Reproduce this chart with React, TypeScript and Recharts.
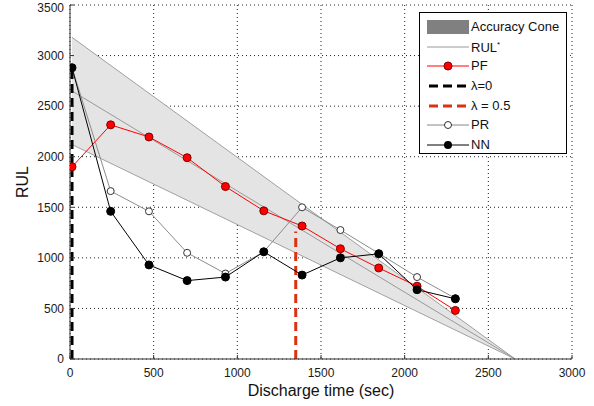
import {
  ComposedChart,
  Area,
  Line,
  XAxis,
  YAxis,
  CartesianGrid,
  Legend,
} from 'recharts';

// sampling instants (sec) shared by the three estimators
const sampleTimes = [12, 243, 472, 700, 929, 1158, 1387, 1616, 1845, 2074, 2303];
const pfValues = [1900, 2315, 2195, 1990, 1705, 1465, 1315, 1090, 900, 720, 480];
const prValues = [2880, 1660, 1460, 1050, 845, 1060, 1500, 1275, 1045, 810, 600];
const nnValues = [2880, 1460, 930, 775, 810, 1060, 830, 1000, 1040, 685, 595];

// true RUL and the +/-20% accuracy cone
const coneTimes = [12, 2660];
const rulTrue = [2650, 0];
const coneLower = [2120, 0];
const coneUpper = [3180, 0];

// lambda markers (vertical dashed lines)
const lambda0Time = 12;
const lambda0Top = 2880;
const lambdaHalfTime = 1349;
const lambdaHalfTop = 1260;

const xTicks = [0, 500, 1000, 1500, 2000, 2500, 3000];
const yTicks = [0, 500, 1000, 1500, 2000, 2500, 3000, 3500];

const FONT = 'Arial, "Liberation Sans", sans-serif';

const seriesData = (values: number[]) =>
  sampleTimes.map((t, i) => ({ t, v: values[i] }));

const coneData = coneTimes.map((t, i) => ({
  t,
  band: [coneLower[i], coneUpper[i]],
  rul: rulTrue[i],
}));

const lambda0Data = [
  { t: lambda0Time, v: 0 },
  { t: lambda0Time, v: lambda0Top },
];
const lambdaHalfData = [
  { t: lambdaHalfTime, v: 0 },
  { t: lambdaHalfTime, v: lambdaHalfTop },
];

const tickStyle = { fontSize: 12, fill: '#1a1a1a', fontFamily: FONT };

const YLabel = ({ viewBox }: any) => {
  const cy = viewBox ? viewBox.y + viewBox.height / 2 : 182;
  return (
    <text
      x={22}
      y={cy}
      transform={`rotate(-90 22 ${cy})`}
      textAnchor='middle'
      dominantBaseline='central'
      fontSize={16}
      fontFamily={FONT}
      fill='#111'
    >
      RUL
    </text>
  );
};

const XLabel = ({ viewBox }: any) => {
  const cx = viewBox ? viewBox.x + viewBox.width / 2 : 321;
  return (
    <text
      x={cx}
      y={396}
      textAnchor='middle'
      fontSize={16}
      fontFamily={FONT}
      fill='#111'
    >
      Discharge time (sec)
    </text>
  );
};

const Swatch = ({ kind }: { kind: string }) => {
  const w = 42;
  const h = 18;
  const c = h / 2;
  switch (kind) {
    case 'cone':
      return (
        <svg width={w} height={h}>
          <rect x={0} y={2} width={w} height={14} fill='#808080' />
        </svg>
      );
    case 'rul':
      return (
        <svg width={w} height={h}>
          <line x1={0} x2={w} y1={c} y2={c} stroke='#999' strokeWidth={1} />
        </svg>
      );
    case 'pf':
      return (
        <svg width={w} height={h}>
          <line x1={0} x2={w} y1={c} y2={c} stroke='#ff0000' strokeWidth={1} />
          <circle cx={w / 2} cy={c} r={4} fill='#ff0000' stroke='#800000' />
        </svg>
      );
    case 'l0':
      return (
        <svg width={w} height={h}>
          <line x1={2} x2={w} y1={c} y2={c} stroke='#000' strokeWidth={3} strokeDasharray='9 5' />
        </svg>
      );
    case 'l5':
      return (
        <svg width={w} height={h}>
          <line x1={2} x2={w} y1={c} y2={c} stroke='#dc3214' strokeWidth={3} strokeDasharray='9 5' />
        </svg>
      );
    case 'pr':
      return (
        <svg width={w} height={h}>
          <line x1={0} x2={w} y1={c} y2={c} stroke='#888' strokeWidth={1} />
          <circle cx={w / 2} cy={c} r={3.5} fill='#fff' stroke='#333' />
        </svg>
      );
    default:
      return (
        <svg width={w} height={h}>
          <line x1={0} x2={w} y1={c} y2={c} stroke='#000' strokeWidth={1} />
          <circle cx={w / 2} cy={c} r={4} fill='#000' />
        </svg>
      );
  }
};

const legendRows: { kind: string; label: React.ReactNode }[] = [
  { kind: 'cone', label: 'Accuracy Cone' },
  { kind: 'rul', label: <>RUL<sup style={{ fontSize: 8 }}>*</sup></> },
  { kind: 'pf', label: 'PF' },
  { kind: 'l0', label: 'λ=0' },
  { kind: 'l5', label: 'λ = 0.5' },
  { kind: 'pr', label: 'PR' },
  { kind: 'nn', label: 'NN' },
];

const LegendBox = () => (
  <div
    style={{
      width: 148,
      height: 142,
      boxSizing: 'border-box',
      border: '1px solid #000',
      background: '#fff',
      paddingTop: 4,
      paddingLeft: 7,
      fontFamily: FONT,
      fontSize: 13,
      color: '#111',
    }}
  >
    {legendRows.map((row) => (
      <div
        key={row.kind}
        style={{ display: 'flex', alignItems: 'center', height: 19.7, lineHeight: '14px' }}
      >
        <Swatch kind={row.kind} />
        <span style={{ marginLeft: 2 }}>{row.label}</span>
      </div>
    ))}
  </div>
);

export default function App() {
  return (
    <div style={{ position: 'absolute', left: 0, top: 0, background: '#fff' }}>
      <ComposedChart
        width={594}
        height={406}
        margin={{ top: 5, right: 22, bottom: 0, left: 0 }}
      >
        <CartesianGrid stroke='#222' strokeDasharray='1 3' />

        <XAxis
          dataKey='t'
          type='number'
          domain={[0, 3000]}
          ticks={xTicks}
          height={47}
          tick={tickStyle}
          tickSize={-4}
          tickMargin={13}
          stroke='#333'
          allowDataOverflow
          label={<XLabel />}
        />
        <XAxis
          xAxisId='top'
          orientation='top'
          type='number'
          domain={[0, 3000]}
          ticks={xTicks}
          height={0}
          tickSize={-4}
          tickFormatter={() => ''}
          stroke='#333'
        />
        <YAxis
          type='number'
          domain={[0, 3500]}
          ticks={yTicks}
          width={70}
          tick={tickStyle}
          tickSize={-4}
          tickMargin={10}
          stroke='#333'
          allowDataOverflow
          label={<YLabel />}
        />
        <YAxis
          yAxisId='right'
          orientation='right'
          type='number'
          domain={[0, 3500]}
          ticks={yTicks}
          width={0}
          tickSize={-4}
          tickFormatter={() => ''}
          stroke='#333'
        />

        <Area
          data={coneData}
          dataKey='band'
          type='linear'
          fill='#e4e4e4'
          fillOpacity={1}
          stroke='#a0a0a0'
          strokeWidth={1}
          isAnimationActive={false}
          legendType='none'
        />
        <Line
          data={coneData}
          dataKey='rul'
          type='linear'
          stroke='#999'
          strokeWidth={1}
          dot={false}
          isAnimationActive={false}
        />
        <Line
          data={seriesData(pfValues)}
          dataKey='v'
          type='linear'
          stroke='#ff0000'
          strokeWidth={1}
          dot={{ r: 4, fill: '#ff0000', stroke: '#800000', strokeWidth: 1 }}
          isAnimationActive={false}
        />
        <Line
          data={lambda0Data}
          dataKey='v'
          type='linear'
          stroke='#000'
          strokeWidth={3}
          strokeDasharray='9 5'
          dot={false}
          isAnimationActive={false}
        />
        <Line
          data={lambdaHalfData}
          dataKey='v'
          type='linear'
          stroke='#dc3214'
          strokeWidth={3}
          strokeDasharray='9 5'
          dot={false}
          isAnimationActive={false}
        />
        <Line
          data={seriesData(prValues)}
          dataKey='v'
          type='linear'
          stroke='#8c8c8c'
          strokeWidth={1}
          dot={{ r: 3.5, fill: '#fff', stroke: '#333', strokeWidth: 1 }}
          isAnimationActive={false}
        />
        <Line
          data={seriesData(nnValues)}
          dataKey='v'
          type='linear'
          stroke='#000'
          strokeWidth={1}
          dot={{ r: 4, fill: '#000', stroke: '#000', strokeWidth: 1 }}
          isAnimationActive={false}
        />

        <Legend
          layout='vertical'
          align='center'
          verticalAlign='middle'
          wrapperStyle={{ left: 419, top: 12, width: 148 }}
          content={() => <LegendBox />}
        />
      </ComposedChart>
    </div>
  );
}
